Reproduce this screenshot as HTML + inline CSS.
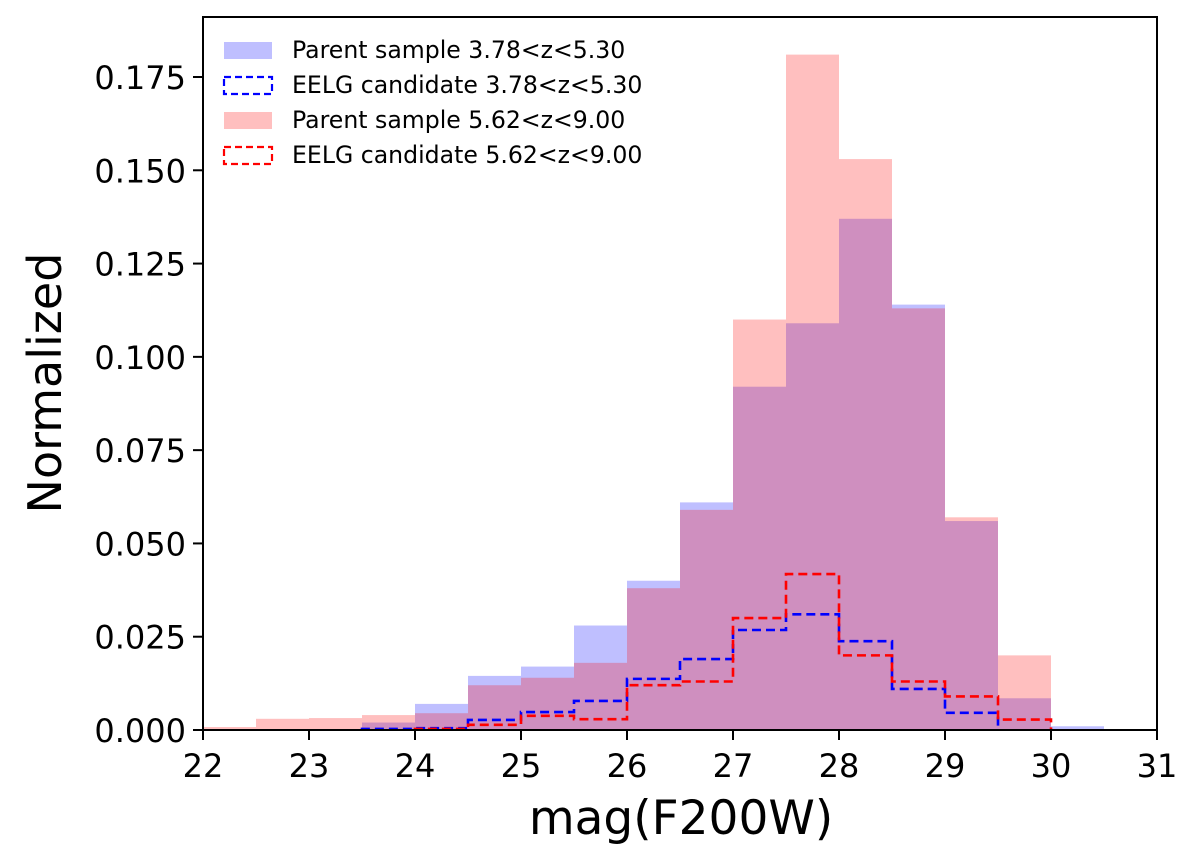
<!DOCTYPE html>
<html><head><meta charset="utf-8"><style>
html,body{margin:0;padding:0;background:#fff;}
svg{display:block;font-family:"DejaVu Sans","Liberation Sans",sans-serif;}
</style></head><body>
<svg id="chart" width="1200" height="862" viewBox="0 0 1200 862">
<g id="plot"></g>
<g id="axes"></g>
<g id="legend"></g>
</svg>
<script>
const binEdges = [22,22.5,23,23.5,24,24.5,25,25.5,26,26.5,27,27.5,28,28.5,29,29.5,30,30.5];
const parentLow = [0,0,0,0.002,0.007,0.0145,0.017,0.028,0.040,0.061,0.092,0.109,0.137,0.114,0.056,0.0085,0.001];
const parentHigh = [0.0008,0.003,0.0032,0.004,0.0045,0.012,0.014,0.018,0.038,0.059,0.110,0.181,0.153,0.113,0.057,0.020,0];
const eelgLow = [0,0,0,0.0003,0.0005,0.0027,0.0048,0.0078,0.0137,0.019,0.0268,0.031,0.0238,0.011,0.0046,0,0];
const eelgHigh = [0,0,0,0,0.0003,0.0014,0.0038,0.0029,0.012,0.013,0.030,0.0418,0.020,0.013,0.009,0.0028,0];
const xTicks = [22,23,24,25,26,27,28,29,30,31];
const yTicks = [0,0.025,0.05,0.075,0.1,0.125,0.15,0.175];
const yTickLabels = ["0.000","0.025","0.050","0.075","0.100","0.125","0.150","0.175"];

const NS="http://www.w3.org/2000/svg";
const L=203,R=1157,T=17,B=730;
const xs=v=>L+(v-22)*(R-L)/9;
const ys=v=>B-v*(B-77)/0.175;
function mk(tag,attrs,parent){const e=document.createElementNS(NS,tag);for(const k in attrs)e.setAttribute(k,attrs[k]);parent.appendChild(e);return e;}
const plot=document.getElementById('plot'),axes=document.getElementById('axes'),legend=document.getElementById('legend');

function bars(vals,fill,name){
  vals.forEach((v,i)=>{ if(v<=0) return;
    const r=mk('rect',{x:xs(binEdges[i]),y:ys(v),width:xs(binEdges[i+1])-xs(binEdges[i]),height:B-ys(v),fill:fill},plot);
    
    
  });
}
function step(vals,color,name){
  let first=vals.findIndex(v=>v>0), last=vals.length-1-[...vals].reverse().findIndex(v=>v>0);
  if(first<0) return;
  let d='M'+xs(binEdges[first])+','+B;
  for(let i=first;i<=last;i++){d+=' L'+xs(binEdges[i])+','+ys(vals[i])+' L'+xs(binEdges[i+1])+','+ys(vals[i]);}
  d+=' L'+xs(binEdges[last+1])+','+B;
  const p=mk('path',{d:d,fill:'none',stroke:color,'stroke-width':2.6,'stroke-dasharray':'9,5'},plot);
  
  
}
bars(parentLow,'rgba(0,0,255,0.25)','parent-low');
bars(parentHigh,'rgba(255,0,0,0.25)','parent-high');
step(eelgLow,'#0000ff','eelg-low-step');
step(eelgHigh,'#ff0000','eelg-high-step');

const frame=mk('rect',{x:L,y:T,width:R-L,height:B-T,fill:'none',stroke:'#000','stroke-width':2},axes);


xTicks.forEach(t=>{
  mk('line',{x1:xs(t),x2:xs(t),y1:B,y2:B+10,stroke:'#000','stroke-width':2},axes);
  const tx=mk('text',{x:xs(t),y:B+47,'text-anchor':'middle','font-size':32,fill:'#000'},axes);
  tx.textContent=t;
  
  
});
yTicks.forEach((t,i)=>{
  mk('line',{x1:L-10,x2:L,y1:ys(t),y2:ys(t),stroke:'#000','stroke-width':2},axes);
  const tx=mk('text',{x:L-17,y:ys(t)+12,'text-anchor':'end','font-size':32,fill:'#000'},axes);
  tx.textContent=yTickLabels[i];
  
  
});
const xl=mk('text',{x:(L+R)/2+1,y:834,'text-anchor':'middle','font-size':47,fill:'#000'},axes);
xl.textContent='mag(F200W)';


const yl=mk('text',{x:0,y:0,'text-anchor':'middle','font-size':46,fill:'#000',transform:'translate(61,383) rotate(-90)'},axes);
yl.textContent='Normalized';



const entries=[
 {label:'Parent sample 3.78<z<5.30',fill:'rgba(0,0,255,0.25)',dash:null},
 {label:'EELG candidate 3.78<z<5.30',fill:'none',dash:'#0000ff'},
 {label:'Parent sample 5.62<z<9.00',fill:'rgba(255,0,0,0.25)',dash:null},
 {label:'EELG candidate 5.62<z<9.00',fill:'none',dash:'#ff0000'}];
entries.forEach((e,i)=>{
  const y=50+i*35;
  const g=mk('g',{},legend);
  
  
  if(e.dash) mk('rect',{x:224,y:y-8,width:48,height:17,fill:'none',stroke:e.dash,'stroke-width':2.2,'stroke-dasharray':'7,4'},g);
  else mk('rect',{x:224,y:y-8,width:48,height:17,fill:e.fill},g);
  const t=mk('text',{x:292,y:y+8,'font-size':23.6,fill:'#000'},g);
  t.textContent=e.label;
});
</script>
</body></html>
